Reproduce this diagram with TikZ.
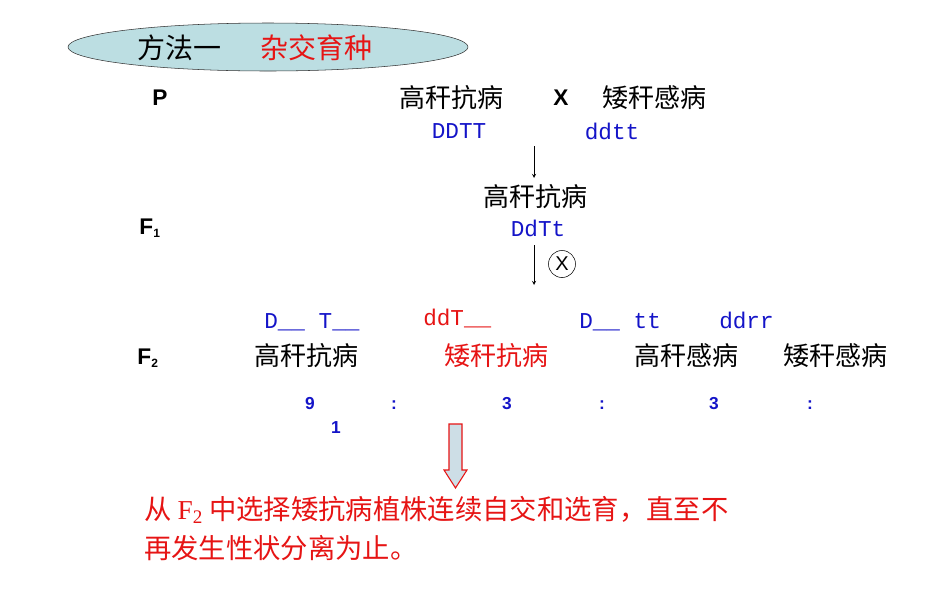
\documentclass[tikz,border=0pt]{standalone}
\usepackage{fontspec}
\setmainfont{Liberation Sans}
\newfontfamily\cjk{Noto Sans CJK SC}
\newfontfamily\gmono{Liberation Mono}
\usetikzlibrary{shapes.geometric}
\definecolor{gblue}{RGB}{20,20,200}
\definecolor{gred}{RGB}{230,20,20}
\definecolor{ellfill}{RGB}{188,222,226}
\definecolor{arrfill}{RGB}{205,222,230}
\tikzset{
  cn/.style={font=\cjk\fontsize{19.5}{22}\selectfont, inner sep=0pt},
  gt/.style={font=\gmono\fontsize{17}{19}\selectfont, text=gblue, inner sep=0pt},
  lb/.style={font=\bfseries\fontsize{17}{19}\selectfont, inner sep=0pt},
  rt/.style={font=\bfseries\fontsize{13}{15}\selectfont, text=gblue, inner sep=0pt},
  ar/.style={-stealth, thin},
}
\begin{document}
\begin{tikzpicture}[x=0.75pt,y=-0.75pt]
\useasboundingbox (0,0) rectangle (950,594);
\node[ellipse, draw=black!80, fill=ellfill, minimum width=400*0.75pt, minimum height=48*0.75pt, inner sep=0pt] (ell) at (268,47) {};
\node[cn, anchor=west, font=\cjk\fontsize{21}{23}\selectfont] (m1) at (137,48) {方法一};
\node[cn, anchor=west, text=gred, font=\cjk\fontsize{21}{23}\selectfont] (m2) at (260,48) {杂交育种};
\node[lb] (P) at (160,98) {P};
\node[cn] (p1) at (451,98) {高秆抗病};
\node[lb] (X) at (561,98) {X};
\node[cn] (p2) at (654,98) {矮秆感病};
\node[gt] (g1) at (459,131) {DDTT};
\node[gt] (g2) at (612,131) {ddtt};
\coordinate (a1s) at (534,146);
\node[cn] (f1) at (535,197) {高秆抗病};
\draw[ar] (a1s) -- (534,178);
\node[gt] (g3) at (538,228) {DdTt};
\node[lb] (F1) at (150,228) {F\textsubscript{\fontsize{9}{10}\selectfont 1}};
\coordinate (a2s) at (534,245);
\coordinate (a2e) at (534,285);
\draw[ar] (a2s) -- (a2e);
\node[circle, draw, minimum size=27*0.75pt, inner sep=0pt, font=\fontsize{15}{16}\selectfont] (self) at (562,264) {X};
\node[gt, anchor=base west] (q1) at (264,328) {D\_\_ T\_\_};
\node[gt, anchor=base west, text=gred] (q2) at (423,325) {ddT\_\_};
\node[gt, anchor=base west] (q3) at (579,328) {D\_\_ tt};
\node[gt, anchor=base west] (q4) at (719,328) {ddrr};
\node[lb] (F2) at (148,358) {F\textsubscript{\fontsize{9}{10}\selectfont 2}};
\node[cn] (h1) at (306,356) {高秆抗病};
\node[cn, text=gred] (h2) at (496,356) {矮秆抗病};
\node[cn] (h3) at (686,356) {高秆感病};
\node[cn] (h4) at (835,356) {矮秆感病};
\node[rt] (r1) at (310,404) {9};
\node[rt] (c1) at (394,405) {:};
\node[rt] (r2) at (507,404) {3};
\node[rt] (c2) at (602,405) {:};
\node[rt] (r3) at (714,404) {3};
\node[rt] (c3) at (810,405) {:};
\node[rt] (r4) at (336,428) {1};
\draw[gred, fill=arrfill, line width=0.8pt] (449,424) -- (462,424) -- (462,470) -- (467,470) -- (455.5,488) -- (444,470) -- (449,470) -- cycle;
\node[cn, text=gred, anchor=west, font=\cjk\fontsize{20.5}{23}\selectfont] (t1) at (144,510) {从 {\fontspec{Liberation Serif}F\textsubscript{2}} 中选择矮抗病植株连续自交和选育，直至不};
\node[cn, text=gred, anchor=west, font=\cjk\fontsize{20.5}{23}\selectfont] (t2) at (144,548) {再发生性状分离为止。};
\end{tikzpicture}
\end{document}
